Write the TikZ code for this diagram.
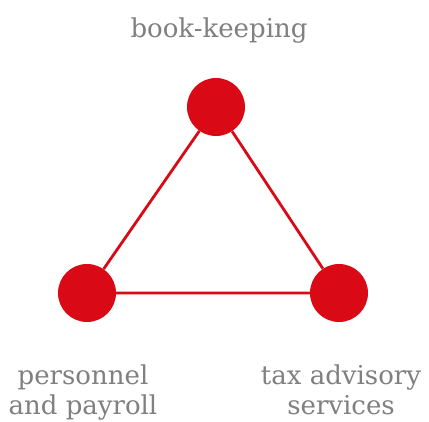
\documentclass[tikz,border=0pt]{standalone}
\usepackage{fontspec}
\setmainfont{DejaVu Serif}
\definecolor{mred}{HTML}{D90A16}
\definecolor{mgrey}{HTML}{808080}
\begin{document}
\begin{tikzpicture}[x=1pt,y=1pt,
  dot/.style={circle,fill=mred,minimum size=58pt,inner sep=0pt},
  edge/.style={draw=mred,line width=2.8pt},
  lbl/.style={text=mgrey,font=\fontsize{26}{30}\selectfont,align=center,inner sep=0pt,anchor=base}]
\useasboundingbox[fill=white] (0,0) rectangle (429,421);
\node[dot] (top) at (216,314) {};
\node[dot] (left) at (87,128) {};
\node[dot] (right) at (339,128) {};
\draw[edge] (top) -- (left) -- (right) -- (top);
\node[lbl] (tl) at (219,383) {book-keeping};
\node[lbl] (ll) at (83,6) {personnel\\and payroll};
\node[lbl] (rl) at (341,6) {tax advisory\\services};
\end{tikzpicture}
\end{document}
